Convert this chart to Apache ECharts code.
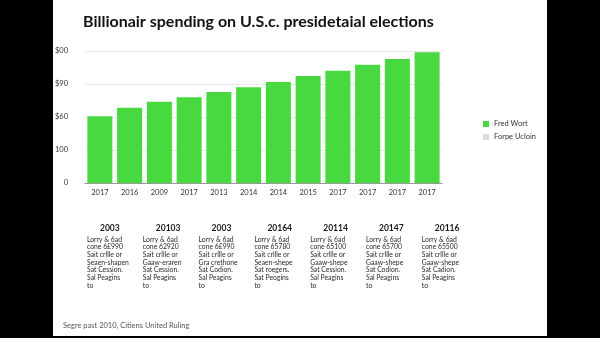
<!DOCTYPE html>
<html>
<head>
<meta charset="utf-8">
<script src="https://cdn.jsdelivr.net/npm/echarts@6/dist/echarts.min.js"></script>
<style>
  html, body { margin: 0; padding: 0; background: #000; }
  #sheet { position: absolute; left: 53px; top: 0; width: 494px; height: 336px; background: #fff; }
  #chart { position: absolute; left: 0; top: 0; width: 600px; height: 338px; }
</style>
</head>
<body>
<div id="sheet"></div>
<div id="chart"></div>
<script>
// Category labels along the x axis
const categories = ['2017', '2016', '2009', '2017', '2013', '2014', '2014', '2015', '2017', '2017', '2017', '2017'];
// Spending values, one per bar
const spending = [101, 114, 123, 130, 138, 145, 153, 162, 170, 179, 188, 198];
// Y axis tick labels, from the bottom tick upwards
const yTickLabels = ['0', '100', '$60', '$90', '$00'];
// Legend entries
const seriesNames = ['Fred Wort', 'Forpe Ucloin'];
// Note columns below the chart
const noteHeadings = ['2003', '20103', '2003', '20164', '20114', '20147', '20116'];
const noteBodies = [
  ['Lorry & 6ad', 'cone 6£990', 'Sait crllle or', 'Seaen-shapen', 'Sat Cession.', 'Sal Peagins', 'to'],
  ['Lorry & 6ad', 'cone 62920', 'Sait crllle or', 'Gaaw-eraren', 'Sat Cession.', 'Sal Peagins', 'to'],
  ['Lorry & 6ad', 'cone 6£990', 'Sait crllle or', 'Gra crethone', 'Sat Codion.', 'Sal Peagins', 'to'],
  ['Lorry & 6ad', 'cone 65780', 'Sait crllle or', 'Seaen-shepe', 'Sat roegers.', 'Sat Peogins', 'to'],
  ['Lorry & 6ad', 'cone 65100', 'Sait crllle or', 'Gaaw-shepe', 'Sat Cession.', 'Sal Peagins', 'to'],
  ['Lorry & 6ad', 'cone 65700', 'Sait crllle or', 'Gaaw-shepe', 'Sat Codion.', 'Sal Peagins', 'to'],
  ['Lorry & 6ad', 'cone 65500', 'Sait crllle or', 'Gaaw-shepe', 'Sat Cadion.', 'Sal Peagins', 'to']
];
const footnote = 'Segre past 2010, Citiens United Ruling';

const FONT = 'Lato, "Open Sans", sans-serif';

// Note columns drawn as graphic text
const graphics = [];
noteHeadings.forEach((h, i) => {
  const left = 87 + i * 55.8;
  graphics.push({
    type: 'text', left: left + 13, top: 224,
    style: { text: h, fill: '#1a1a1a', font: 'bold 8.5px ' + FONT, textAlign: 'center' }
  });
  noteBodies[i].forEach((line, j) => {
    graphics.push({
      type: 'text', left: left, top: 236 + j * 7.7,
      style: { text: line, fill: '#2a2a2a', font: '6.8px ' + FONT }
    });
  });
});
graphics.push({
  type: 'text', left: 63, top: 322,
  style: { text: footnote, fill: '#555', font: '7.5px ' + FONT }
});

const chart = echarts.init(document.getElementById('chart'), null, { renderer: 'canvas' });
chart.setOption({
  backgroundColor: 'transparent',
  animation: false,
  title: {
    text: 'Billionair spending on U.S.c. presidetaial elections',
    left: 78, top: 9,
    textStyle: { fontFamily: FONT, fontWeight: 'bold', fontSize: 16, color: '#111' }
  },
  legend: {
    data: seriesNames,
    orient: 'vertical',
    left: 478, top: 115,
    itemWidth: 6, itemHeight: 6, itemGap: 5,
    icon: 'rect',
    textStyle: { fontFamily: FONT, fontSize: 7.5, color: '#333' }
  },
  grid: { left: 85, right: 158, top: 51, bottom: 155, containLabel: false },
  xAxis: {
    type: 'category',
    data: categories,
    axisLine: { lineStyle: { color: '#999' } },
    axisTick: { show: false },
    axisLabel: { fontFamily: FONT, fontSize: 7.5, color: '#333', margin: 6 }
  },
  yAxis: {
    type: 'value',
    min: 0, max: 200, interval: 50,
    axisLine: { show: false },
    axisTick: { show: false },
    splitLine: { lineStyle: { color: '#e8e8e8' } },
    axisLabel: {
      fontFamily: FONT, fontSize: 7.5, color: '#333', margin: 17,
      formatter: (v) => yTickLabels[Math.round(v / 50)]
    }
  },
  series: [
    {
      name: seriesNames[0], type: 'bar', data: spending,
      barGap: '-100%', barCategoryGap: '16%',
      itemStyle: { color: '#48d83f' }
    },
    {
      name: seriesNames[1], type: 'bar', data: [],
      barGap: '-100%', barCategoryGap: '16%',
      itemStyle: { color: '#dcdcdc' }
    }
  ],
  graphic: graphics
});
</script>
</body>
</html>
